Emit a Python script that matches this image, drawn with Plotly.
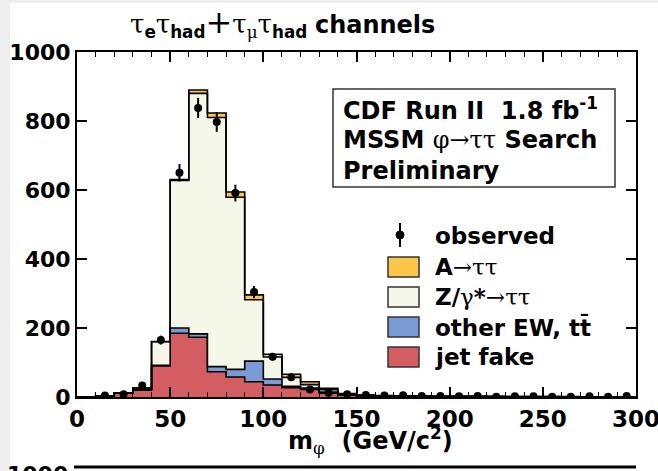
import numpy as np
import plotly.graph_objects as go

# Binning of the reconstructed mass m_phi (GeV/c^2)
bin_edges = list(range(0, 310, 10))

# Expected contributions per 10 GeV bin (0-300 GeV)
jet_fake = [0, 3, 12, 20, 90, 185, 173, 73, 58, 44,
            35, 27, 22, 11, 5, 3, 2, 2, 1.5, 1,
            1, 1, 0.8, 0.6, 0.5, 0.5, 0.4, 0.3, 0.3, 0.3]
other_ew = [0, 0, 0, 1, 2, 15, 10, 15, 22, 60,
            17, 4, 4, 3, 1, 1, 0.5, 0.5, 0.5, 0.5,
            0.4, 0.4, 0.3, 0.3, 0.3, 0.3, 0.2, 0.2, 0.2, 0.2]
z_tautau = [0, 0, 0, 5, 68, 428, 697, 722, 499, 178,
            64, 26, 10, 7, 2, 1, 0.8, 0.6, 0.5, 0.4,
            0.3, 0.3, 0.3, 0.2, 0.2, 0.2, 0.2, 0.2, 0.1, 0.1]
a_tautau = [0, 0, 0, 0, 1, 2, 10, 13, 15, 14,
            8, 9, 8, 4, 2, 1, 0.8, 0.6, 0.5, 0.4,
            0.3, 0.3, 0.3, 0.2, 0.2, 0.2, 0.2, 0.2, 0.1, 0.1]

# Observed event counts
observed = [0, 4, 8, 33, 165, 650, 838, 797, 591, 304,
            117, 57, 22, 12, 8, 6, 4, 5, 3, 3,
            2, 3, 1, 2, 2, 1, 1, 2, 1, 3]

x_ticks = [0, 50, 100, 150, 200, 250, 300]
y_ticks = [0, 200, 400, 600, 800, 1000]

layers = [
    ("jet fake", jet_fake, "#d45d62"),
    ("other EW, tt\u0304", other_ew, "#7b9bd7"),
    ("Z/\u03b3*\u2192\u03c4\u03c4", z_tautau, "#f5f7e8"),
    ("A\u2192\u03c4\u03c4", a_tautau, "#fcc64a"),
]

edges = np.array(bin_edges, dtype=float)
centers = 0.5 * (edges[:-1] + edges[1:])

fig = go.Figure()

# Stacked step histograms: each layer filled down to the one below it
cum = np.zeros(len(centers))
for i, (name, vals, col) in enumerate(layers):
    cum = cum + np.array(vals, dtype=float)
    ys = np.append(cum, cum[-1])
    fig.add_trace(go.Scatter(
        x=edges, y=ys, mode="lines", line=dict(shape="hv", color="black", width=1.6),
        fill="tozeroy" if i == 0 else "tonexty", fillcolor=col,
        name=name, showlegend=False, hoverinfo="skip"))

# Observed data with Poisson errors
obs = np.array(observed, dtype=float)
mask = obs > 0
fig.add_trace(go.Scatter(
    x=centers[mask], y=obs[mask], mode="markers",
    marker=dict(color="black", size=8),
    error_y=dict(type="data", array=np.sqrt(obs[mask]), color="black", thickness=2, width=0),
    showlegend=False, name="observed"))

# Plot-area geometry in pixels
W, H = 658, 471
L, R, T, B = 77, 636, 52, 397


def px(x):
    return (x - L) / (R - L)


def py(y):
    return (B - y) / (B - T)


SANS = "DejaVu Sans"
SERIF = "DejaVu Serif"


def greek(s, size=None):
    extra = f";font-size:{size}px" if size else ""
    return f"<span style='font-family:{SERIF};font-weight:normal{extra}'>{s}</span>"


shapes = []
annotations = []

# light grey page edge
shapes.append(dict(type="rect", xref="paper", yref="paper", x0=px(0), x1=px(10), y0=py(H), y1=py(0),
                   fillcolor="#eeeeee", line=dict(width=0), layer="below"))
shapes.append(dict(type="rect", xref="paper", yref="paper", x0=px(0), x1=px(W), y0=py(3), y1=py(0),
                   fillcolor="#eeeeee", line=dict(width=0), layer="below"))

# Title
tau = greek("\u03c4", 26)
title = (tau + "<sub><b>e</b></sub>" + tau + "<sub><b>had</b></sub>"
         + greek("+", 32) + tau + "<sub>" + greek("\u03bc") + "</sub>" + tau
         + "<sub><b>had</b></sub> <b>channels</b>")
annotations.append(dict(text=title, xref="paper", yref="paper", x=px(128), y=py(22),
                        xanchor="left", yanchor="middle", showarrow=False,
                        font=dict(family=SANS, size=24, color="black")))

# Info box
shapes.append(dict(type="rect", xref="paper", yref="paper", x0=px(333), x1=px(615), y0=py(187), y1=py(89),
                   line=dict(color="#333333", width=1.5), fillcolor="white"))
info_lines = [
    "<b>CDF Run II  1.8 fb<sup>-1</sup></b>",
    "<b>MSSM </b>" + greek("\u03c6\u2192\u03c4\u03c4") + "<b> Search</b>",
    "<b>Preliminary</b>",
]
for txt, yc in zip(info_lines, [109, 140, 171]):
    annotations.append(dict(text=txt, xref="paper", yref="paper", x=px(341), y=py(yc),
                            xanchor="left", yanchor="middle", showarrow=False,
                            font=dict(family=SANS, size=24, color="black")))

# Legend
leg_x0, leg_x1, text_x = 388, 419, 433
shapes.append(dict(type="line", xref="paper", yref="paper", x0=px(400), x1=px(400), y0=py(223), y1=py(247),
                   line=dict(color="black", width=2)))
shapes.append(dict(type="circle", xref="paper", yref="paper", x0=px(396), x1=px(404), y0=py(239), y1=py(231),
                   fillcolor="black", line=dict(color="black", width=1)))
annotations.append(dict(text="<b>observed</b>", xref="paper", yref="paper", x=px(text_x), y=py(236),
                        xanchor="left", yanchor="middle", showarrow=False,
                        font=dict(family=SANS, size=23, color="black")))
legend_labels = [
    "<b>A</b>" + greek("\u2192\u03c4\u03c4"),
    "<b>Z/</b>" + greek("\u03b3") + "<b>*</b>" + greek("\u2192\u03c4\u03c4"),
    "<b>other EW, tt\u0304</b>",
    "<b>jet fake</b>",
]
legend_cols = [layers[3][2], layers[2][2], layers[1][2], layers[0][2]]
for lab, col, yc in zip(legend_labels, legend_cols, [267, 297, 327, 357]):
    shapes.append(dict(type="rect", xref="paper", yref="paper", x0=px(leg_x0), x1=px(leg_x1),
                       y0=py(yc + 10), y1=py(yc - 10), fillcolor=col, line=dict(color="#333333", width=1.5)))
    annotations.append(dict(text=lab, xref="paper", yref="paper", x=px(text_x), y=py(yc),
                            xanchor="left", yanchor="middle", showarrow=False,
                            font=dict(family=SANS, size=23, color="black")))

# x-axis title
annotations.append(dict(text="<b>m</b><sub>" + greek("\u03c6") + "</sub><b>  (GeV/c<sup>2</sup>)</b>",
                        xref="paper", yref="paper", x=px(370), y=py(440),
                        xanchor="center", yanchor="middle", showarrow=False,
                        font=dict(family=SANS, size=24, color="black")))

# neighbouring panel edge below
shapes.append(dict(type="line", xref="paper", yref="paper", x0=px(74), x1=px(636), y0=py(467), y1=py(467),
                   line=dict(color="black", width=3)))
annotations.append(dict(text="<b>1000</b>", xref="paper", yref="paper", x=px(70), y=py(474),
                        xanchor="right", yanchor="middle", showarrow=False,
                        font=dict(family=SANS, size=22, color="black")))

fig.update_layout(
    template="none",
    width=W, height=H, autosize=False,
    margin=dict(l=L, r=W - R, t=T, b=H - B, pad=0),
    paper_bgcolor="white", plot_bgcolor="white",
    shapes=shapes, annotations=annotations,
    xaxis=dict(range=[0, 300], tickvals=x_ticks, ticktext=[str(v) for v in x_ticks],
               ticks="inside", ticklen=10, tickwidth=1.5, tickcolor="black",
               minor=dict(dtick=10, ticks="inside", ticklen=5, tickwidth=1.2, tickcolor="black"),
               showline=True, linecolor="black", linewidth=2, mirror="ticks",
               showgrid=False, zeroline=False, ticklabeloverflow="allow", automargin=False,
               tickfont=dict(family=SANS, size=23, color="black", weight="bold")),
    yaxis=dict(range=[0, 1000], tickvals=y_ticks, ticktext=[str(v) for v in y_ticks],
               ticks="inside", ticklen=10, tickwidth=1.5, tickcolor="black",
               showline=True, linecolor="black", linewidth=2, mirror="ticks",
               showgrid=False, zeroline=False, ticklabeloverflow="allow", automargin=False,
               tickfont=dict(family=SANS, size=22, color="black", weight="bold")),
)

fig.write_html("out.html")
